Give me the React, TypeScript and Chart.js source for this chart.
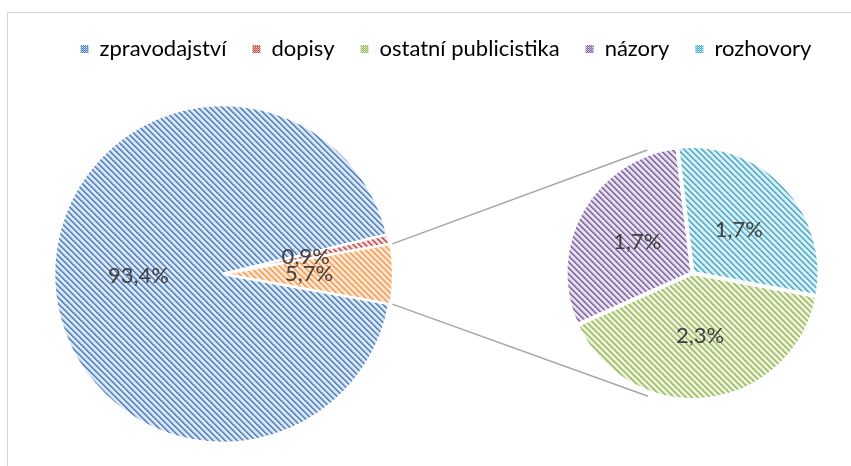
import React, { useEffect, useRef } from 'react';
import { Chart, registerables } from 'chart.js';

Chart.register(...registerables);

// ---- data ----
const mainLabels = ['zpravodajství', 'dopisy', 'ostatní'];
const mainBaseValues = [93.4, 0.9];
const subLabels = ['ostatní publicistika', 'názory', 'rozhovory'];
const subValues = [2.3, 1.7, 1.7];
const legendLabels = ['zpravodajství', 'dopisy', 'ostatní publicistika', 'názory', 'rozhovory'];
const otherValue = Math.round(subValues.reduce((s, v) => s + v, 0) * 10) / 10;
const mainValues = [...mainBaseValues, otherValue];

// ---- styles ----
const COLORS: Record<string, [string, string]> = {
  blue: ['#4F81BD', '#DCE6F2'],
  red: ['#C0504D', '#F2DCDB'],
  green: ['#9BBB59', '#EBF1DE'],
  purple: ['#8064A2', '#E5E0EC'],
  cyan: ['#4BACC6', '#DBEEF4'],
  orange: ['#F79646', '#FDE9D9'],
};
const mainColorKeys = ['blue', 'red', 'orange'];
const subColorKeys = ['green', 'purple', 'cyan'];
const legendColorKeys = ['blue', 'red', 'green', 'purple', 'cyan'];

const FONT = 'Lato, "Open Sans", sans-serif';

function makePattern(key: string): CanvasPattern | string {
  const [fg, bg] = COLORS[key];
  const c = document.createElement('canvas');
  c.width = 6;
  c.height = 6;
  const x = c.getContext('2d');
  if (!x) return fg;
  x.fillStyle = bg;
  x.fillRect(0, 0, 6, 6);
  x.fillStyle = fg;
  for (let i = 0; i < 6; i++) {
    x.globalAlpha = 1;
    x.fillRect(i, i, 1, 1);
    x.globalAlpha = 0.85;
    x.fillRect((i + 1) % 6, i, 1, 1);
    x.globalAlpha = 0.3;
    x.fillRect((i + 2) % 6, i, 1, 1);
  }
  return x.createPattern(c, 'repeat') || fg;
}

function makeSwatch(key: string): CanvasPattern | string {
  const [fg, bg] = COLORS[key];
  const c = document.createElement('canvas');
  c.width = 2;
  c.height = 2;
  const x = c.getContext('2d');
  if (!x) return fg;
  x.fillStyle = bg;
  x.fillRect(0, 0, 2, 2);
  x.fillStyle = fg;
  x.fillRect(0, 0, 1, 1);
  x.fillRect(1, 1, 1, 1);
  x.globalAlpha = 0.5;
  x.fillRect(1, 0, 1, 1);
  return x.createPattern(c, 'repeat') || fg;
}

const fmt = (v: number) => v.toFixed(1).replace('.', ',') + '%';

const placePie = (cx: number, cy: number, r: number) => ({
  id: 'placePie',
  afterLayout(chart: any) {
    chart.chartArea = { left: cx - r, top: cy - r, right: cx + r, bottom: cy + r, width: 2 * r, height: 2 * r };
  },
});

const valueLabels = (values: number[]) => ({
  id: 'valueLabels',
  afterDatasetsDraw(chart: any) {
    const ctx = chart.ctx;
    const meta = chart.getDatasetMeta(0);
    ctx.save();
    ctx.font = `22px ${FONT}`;
    ctx.fillStyle = '#404040';
    ctx.textAlign = 'center';
    ctx.textBaseline = 'middle';
    meta.data.forEach((arc: any, i: number) => {
      const p = arc.tooltipPosition(false);
      ctx.fillText(fmt(values[i]), p.x, p.y);
    });
    ctx.restore();
  },
});

const connectors = (getMain: () => any) => ({
  id: 'connectors',
  afterDatasetsDraw(chart: any) {
    const main = getMain();
    if (!main) return;
    const arc = main.getDatasetMeta(0).data[2];
    const sub = chart.getDatasetMeta(0).data[0];
    if (!arc || !sub) return;
    const { x, y, startAngle, endAngle, outerRadius } = arc.getProps(['x', 'y', 'startAngle', 'endAngle', 'outerRadius']);
    const off = arc.options.offset || 0;
    const mid = (startAngle + endAngle) / 2;
    const ox = x + Math.cos(mid) * off;
    const oy = y + Math.sin(mid) * off;
    const p1 = { x: ox + Math.cos(startAngle) * outerRadius, y: oy + Math.sin(startAngle) * outerRadius };
    const p2 = { x: ox + Math.cos(endAngle) * outerRadius, y: oy + Math.sin(endAngle) * outerRadius };
    const c = { x: sub.x, y: sub.y };
    const R = sub.outerRadius + 4;
    const tangent = (p: { x: number; y: number }, sign: number) => {
      const d = Math.hypot(p.x - c.x, p.y - c.y);
      const phi = Math.atan2(p.y - c.y, p.x - c.x);
      const a = Math.acos(Math.min(1, R / d));
      const t = phi + sign * a;
      return { x: c.x + Math.cos(t) * R, y: c.y + Math.sin(t) * R };
    };
    const t1 = tangent(p1, 1);
    const t2 = tangent(p2, -1);
    const ctx = chart.ctx;
    ctx.save();
    ctx.strokeStyle = '#A6A6A6';
    ctx.lineWidth = 1.5;
    ctx.beginPath();
    ctx.moveTo(p1.x, p1.y);
    ctx.lineTo(t1.x, t1.y);
    ctx.moveTo(p2.x, p2.y);
    ctx.lineTo(t2.x, t2.y);
    ctx.stroke();
    ctx.restore();
  },
});

export default function App() {
  const refA = useRef<HTMLCanvasElement | null>(null);
  const refB = useRef<HTMLCanvasElement | null>(null);

  useEffect(() => {
    if (!refA.current || !refB.current) return;
    const legendPatterns = legendColorKeys.map(makeSwatch);
    let mainChart: any = null;

    mainChart = new Chart(refA.current, {
      type: 'pie',
      data: {
        labels: mainLabels,
        datasets: [
          {
            data: mainValues,
            backgroundColor: mainColorKeys.map(makePattern),
            borderColor: '#FFFFFF',
            borderWidth: 2.5,
            offset: [0, 0, 3],
          },
        ],
      },
      options: {
        responsive: false,
        animation: false,
        devicePixelRatio: 1,
        events: [],
        rotation: 90 + (mainValues[2] / 100) * 180,
        radius: 169,
        layout: { padding: { top: 12, left: 41, right: 0, bottom: 0 } },
        plugins: {
          tooltip: { enabled: false },
          legend: {
            display: true,
            position: 'top',
            align: 'center',
            labels: {
              boxWidth: 8,
              boxHeight: 8,
              padding: 26,
              color: '#595959',
              font: { family: FONT, size: 22 },
              generateLabels: () =>
                legendLabels.map((t, i) => ({
                  text: t,
                  fillStyle: legendPatterns[i],
                  strokeStyle: 'rgba(0,0,0,0)',
                  lineWidth: 0,
                  hidden: false,
                  index: i,
                  datasetIndex: 0,
                })),
            },
          },
        },
      },
      plugins: [placePie(223, 274, 169), valueLabels(mainValues)],
    } as any);

    const subChart = new Chart(refB.current, {
      type: 'pie',
      data: {
        labels: subLabels,
        datasets: [
          {
            data: subValues,
            backgroundColor: subColorKeys.map(makePattern),
            borderColor: '#FFFFFF',
            borderWidth: 4,
          },
        ],
      },
      options: {
        responsive: false,
        animation: false,
        devicePixelRatio: 1,
        events: [],
        rotation: 100.5,
        radius: 127,
        plugins: { tooltip: { enabled: false }, legend: { display: false } },
      },
      plugins: [placePie(692.5, 273, 127), valueLabels(subValues), connectors(() => mainChart)],
    } as any);

    return () => {
      subChart.destroy();
      mainChart.destroy();
    };
  }, []);

  return (
    <div style={{ position: 'absolute', left: 0, top: 0, width: 851, height: 466, overflow: 'hidden', background: '#fff' }}>
      <div
        style={{
          position: 'absolute',
          left: 7,
          top: 12,
          width: 900,
          height: 500,
          border: '1px solid #D4D4D4',
        }}
      />
      <canvas ref={refA} width={851} height={466} style={{ position: 'absolute', left: 0, top: 0 }} />
      <canvas ref={refB} width={851} height={466} style={{ position: 'absolute', left: 0, top: 0, pointerEvents: 'none' }} />
    </div>
  );
}
